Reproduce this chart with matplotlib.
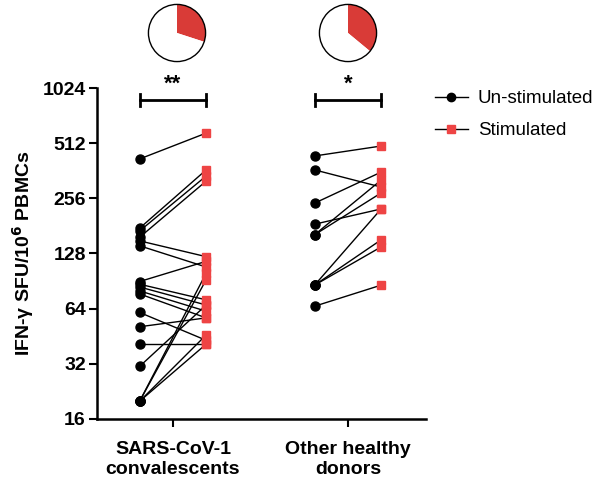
import matplotlib.pyplot as plt
from matplotlib.lines import Line2D

plt.rcParams['font.family'] = ['Liberation Sans', 'DejaVu Sans']

groups = ["SARS-CoV-1\nconvalescents", "Other healthy\ndonors"]
sars_unstim = [420, 176, 170, 157, 150, 141, 90, 87, 84, 80, 77, 61, 51, 41, 31, 20, 20, 20, 20]
sars_stim = [581, 366, 339, 318, 123, 108, 116, 71.5, 67, 62, 57, 43, 57, 41, 67, 100, 92, 46, 41]
healthy_unstim = [436, 366, 241, 185, 162, 162, 86, 86, 86, 66]
healthy_stim = [494, 295, 356, 224, 322, 274, 224, 152, 139, 86]
pie_fracs = [0.30, 0.36]
stars = ["**", "*"]
yticks = [16, 32, 64, 128, 256, 512, 1024]

red = '#EE4444'
pie_red = '#D93B37'

fig = plt.figure(figsize=(6.08, 4.86), dpi=100)
ax = fig.add_axes([0.1595, 0.1379, 0.541, 0.681])

off = 0.19
pairs = [(sars_unstim, sars_stim), (healthy_unstim, healthy_stim)]
for i, (u, s) in enumerate(pairs):
    xc = i + 1
    for a, b in zip(u, s):
        ax.plot([xc - off, xc + off], [a, b], color='black', lw=1.0, zorder=2)
    ax.plot([xc + off] * len(s), s, 's', color=red, ms=6, zorder=3, mec=red)
    ax.plot([xc - off] * len(u), u, 'o', color='black', ms=6.5, zorder=4)

    # significance bar
    yb = 880
    ax.plot([xc - off, xc + off], [yb, yb], color='black', lw=2, clip_on=False)
    for xe in (xc - off, xc + off):
        ax.plot([xe, xe], [yb * 0.93, yb * 1.075], color='black', lw=2, clip_on=False)
    ax.text(xc, yb * 1.07, stars[i], ha='center', va='bottom', fontsize=16,
            fontweight='bold', clip_on=False)

ax.set_yscale('log', base=2)
ax.set_ylim(16, 1024)
ax.set_yticks(yticks)
ax.set_yticklabels([str(t) for t in yticks])
ax.minorticks_off()
ax.set_xlim(0.566, 2.446)
ax.set_xticks([1, 2])
ax.set_xticklabels(groups)

for lab in ax.get_xticklabels() + ax.get_yticklabels():
    lab.set_fontweight('bold')
    lab.set_fontsize(14)
ax.tick_params(width=1.5, length=6, pad=2)
ax.tick_params(axis='x', pad=10)

ax.spines['top'].set_visible(False)
ax.spines['right'].set_visible(False)
ax.spines['left'].set_linewidth(1.8)
ax.spines['bottom'].set_linewidth(1.8)

ax.set_ylabel('IFN-γ SFU/10$^\\mathbf{6}$ PBMCs', fontsize=14, fontweight='bold', labelpad=5)

handles = [
    Line2D([], [], color='black', lw=1, marker='o', ms=6),
    Line2D([], [], color='black', lw=1, marker='s', ms=6, mfc=red, mec=red),
]
ax.legend(handles, ['Un-stimulated', 'Stimulated'], loc='upper left',
          bbox_to_anchor=(0.975, 1.045), frameon=False, fontsize=13.5,
          handlelength=1.8, handletextpad=0.5, labelspacing=0.8)

# pies on top
for i, frac in enumerate(pie_fracs):
    cx = [177, 348][i] / 608
    cy = 1 - 33 / 486
    w = 60 / 608
    h = 60 / 486
    pax = fig.add_axes([cx - w / 2, cy - h / 2, w, h])
    pax.pie([frac, 1 - frac], colors=[pie_red, 'white'], startangle=90,
            counterclock=False, wedgeprops=dict(linewidth=0))
    circ = plt.Circle((0, 0), 1, fill=False, edgecolor='black', lw=1)
    pax.add_patch(circ)
    pax.set_aspect('equal')
    pax.set_xlim(-1.05, 1.05)
    pax.set_ylim(-1.05, 1.05)
    pax.axis('off')

fig.savefig('out.png', dpi=100)
